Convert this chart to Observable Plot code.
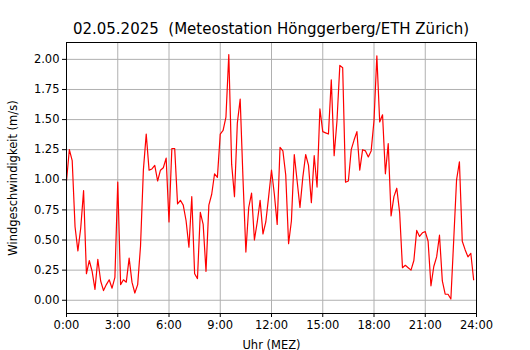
<!DOCTYPE html>
<html>
<head>
<meta charset="utf-8">
<script src="https://cdn.jsdelivr.net/npm/d3@7"></script>
<script src="https://cdn.jsdelivr.net/npm/@observablehq/plot@0.6"></script>
<style>
  html, body { margin: 0; padding: 0; background: white; }
  #title { font-family: "DejaVu Sans", sans-serif; font-size: 15px; color: black;
           height: 36px; box-sizing: border-box; padding-top: 19px; line-height: 20px;
           margin-left: 66px; width: 410px; text-align: center; white-space: pre; }
</style>
</head>
<body>
<div id="title">02.05.2025  (Meteostation Hönggerberg/ETH Zürich)</div>
<div id="chart"></div>
<script>
// Wind speed (m/s), 10-minute readings starting at 0:00
const windSpeed = [
  0.99, 1.25, 1.16, 0.61, 0.41, 0.60, 0.91, 0.22, 0.33, 0.24, 0.09, 0.34,
  0.16, 0.08, 0.13, 0.17, 0.10, 0.19, 0.98, 0.13, 0.17, 0.15, 0.35, 0.15,
  0.06, 0.13, 0.45, 1.08, 1.38, 1.08, 1.09, 1.12, 0.99, 1.08, 1.10, 1.18,
  0.65, 1.26, 1.26, 0.80, 0.83, 0.79, 0.66, 0.44, 0.86, 0.22, 0.18, 0.73,
  0.63, 0.24, 0.79, 0.88, 1.05, 1.02, 1.38, 1.41, 1.52, 2.04, 1.13, 0.86,
  1.47, 1.67, 1.00, 0.40, 0.77, 0.89, 0.50, 0.65, 0.83, 0.55, 0.65, 0.86,
  1.08, 0.88, 0.63, 1.27, 1.24, 1.04, 0.47, 0.66, 1.21, 0.99, 0.77, 1.02,
  1.21, 1.12, 0.81, 1.20, 0.94, 1.59, 1.40, 1.39, 1.38, 1.83, 1.20, 1.49,
  1.95, 1.93, 0.98, 0.99, 1.25, 1.33, 1.40, 1.08, 1.25, 1.24, 1.19, 1.24,
  1.49, 2.03, 1.48, 1.54, 1.05, 1.30, 0.70, 0.86, 0.93, 0.73, 0.27, 0.29,
  0.27, 0.25, 0.33, 0.58, 0.53, 0.56, 0.57, 0.49, 0.12, 0.28, 0.36, 0.54,
  0.16, 0.05, 0.05, 0.01, 0.50, 1.00, 1.15, 0.49, 0.42, 0.36, 0.39, 0.17
];
const stepMinutes = 10;
const xTicks = [0, 3, 6, 9, 12, 15, 18, 21, 24];
const xTickLabels = ["0:00", "3:00", "6:00", "9:00", "12:00", "15:00", "18:00", "21:00", "24:00"];
const yTicks = [0, 0.25, 0.5, 0.75, 1.0, 1.25, 1.5, 1.75, 2.0];
const xLabel = "Uhr (MEZ)";
const yLabel = "Windgeschwindigkeit (m/s)";

const data = windSpeed.map((v, i) => ({hour: i * stepMinutes / 60, v}));
const xFmt = d => xTickLabels[xTicks.indexOf(d)];
const gridColor = "#b0b0b0";

const chart = Plot.plot({
  width: 530,
  height: 314,
  marginTop: 6,
  marginBottom: 37,
  marginLeft: 66,
  marginRight: 54,
  style: {fontFamily: "DejaVu Sans, sans-serif", fontSize: "11.5px", color: "black", background: "white", overflow: "visible"},
  x: {domain: [0, 24]},
  y: {domain: [-0.11, 2.14]},
  marks: [
    Plot.gridX(xTicks, {stroke: gridColor, strokeOpacity: 1, strokeWidth: 1}),
    Plot.gridY(yTicks, {stroke: gridColor, strokeOpacity: 1, strokeWidth: 1}),
    Plot.line(data, {x: "hour", y: "v", stroke: "red", strokeWidth: 1.2}),
    Plot.frame({stroke: "black", strokeWidth: 1}),
    Plot.axisX(xTicks, {tickSize: 4, tickPadding: 3, tickFormat: xFmt, stroke: "black",
      label: xLabel, labelAnchor: "center", labelArrow: "none", labelOffset: 35}),
    Plot.axisY(yTicks, {tickSize: 4, tickPadding: 3, tickFormat: d3.format(".2f"), stroke: "black",
      label: yLabel, labelAnchor: "center", labelArrow: "none", labelOffset: 58})
  ]
});
document.getElementById("chart").appendChild(chart);
</script>
</body>
</html>
